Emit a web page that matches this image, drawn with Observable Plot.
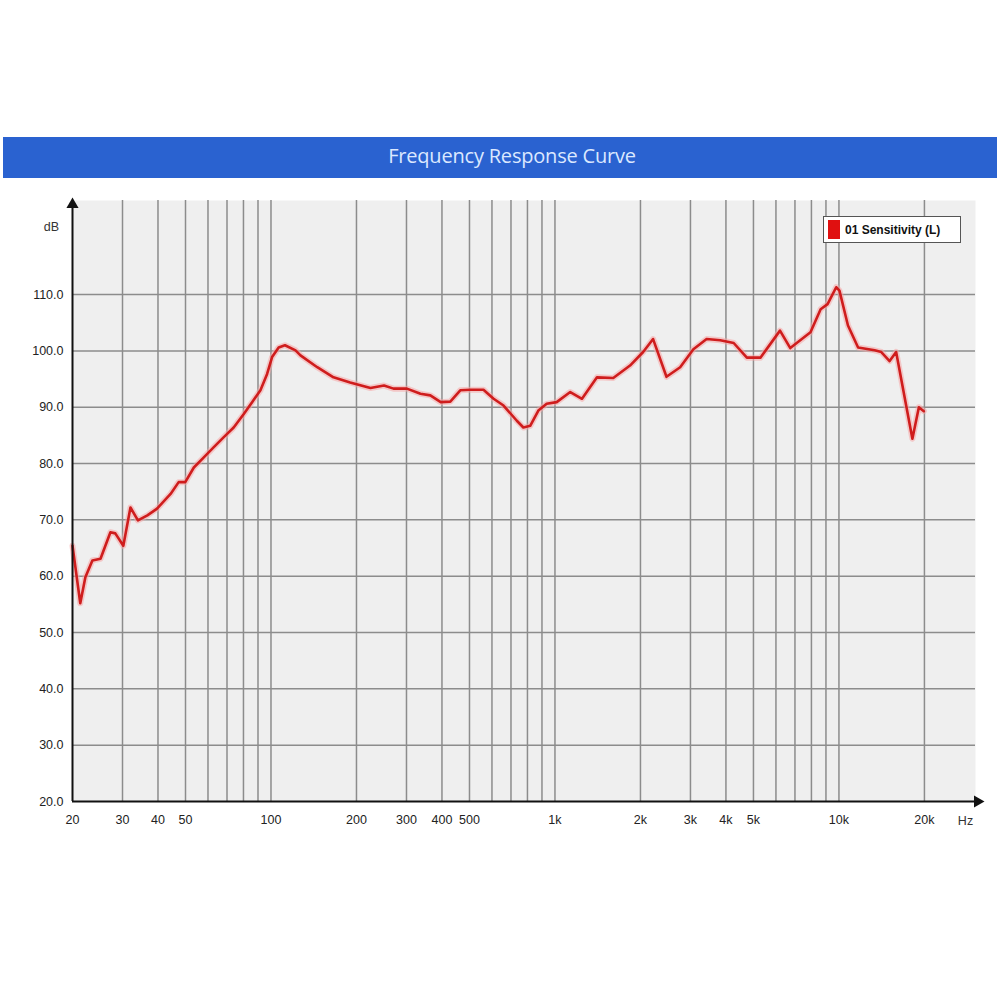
<!DOCTYPE html>
<html><head><meta charset="utf-8">
<script src="https://cdn.jsdelivr.net/npm/d3@7"></script>
<script src="https://cdn.jsdelivr.net/npm/@observablehq/plot@0.6"></script>
<style>
body{margin:0;background:#fff;width:1000px;height:1000px;position:relative;overflow:hidden;font-family:"Liberation Sans",Arial,sans-serif}
#title{position:absolute;left:3px;top:137px;width:994px;height:41px;background:#2a62d0;color:#dbe8ff;font:20px "Open Sans",sans-serif;display:flex;align-items:center;justify-content:center;letter-spacing:-0.2px;box-sizing:border-box;padding-bottom:5px;padding-left:24px}
#chart{position:absolute;left:0;top:178px}
#legend{position:absolute;left:823px;top:216px;width:136px;height:25px;border:1.5px solid #555;background:#fff;display:flex;align-items:center;font:bold 12px "Liberation Sans",Arial,sans-serif;color:#111}
#legend .sw{width:12px;height:19px;background:#e01010;margin:0 5px 0 4px}
</style>
</head><body>
<div id="title">Frequency Response Curve</div>
<div id="chart"></div>
<div id="legend"><span class="sw"></span><span id="legtext"></span></div>
<script>
const seriesName = "01 Sensitivity (L)";
const freqHz = [20, 21.3, 22.2, 23.5, 25.1, 27.2, 28.3, 30.2, 32.0, 34.0, 36.7, 39.7, 44.3, 47.3, 49.9, 53.5, 58, 62.9, 68.2, 73.9, 80.2, 85.8, 91.8, 96.9, 100.9, 106.4, 112, 122, 127, 145.5, 166, 190, 224, 250, 270, 301, 336, 364, 396, 428, 464, 504, 560, 608, 659, 734, 774, 818, 874, 935, 1014, 1132, 1245, 1406, 1604, 1838, 2044, 2216, 2470, 2760, 3072, 3420, 3820, 4260, 4740, 5290, 6200, 6740, 7940, 8620, 9120, 9780, 10040, 10760, 11680, 13360, 14100, 15080, 15900, 18140, 19120, 19900];
const levelDb = [65.4, 55.2, 59.8, 62.8, 63.1, 67.8, 67.6, 65.4, 72.2, 69.9, 70.8, 72.0, 74.6, 76.7, 76.7, 79.3, 81.1, 82.9, 84.7, 86.4, 88.8, 90.9, 93.0, 95.9, 98.9, 100.6, 101.0, 100.1, 99.2, 97.1, 95.3, 94.4, 93.4, 93.85, 93.3, 93.3, 92.4, 92.1, 90.9, 91.0, 93.0, 93.1, 93.1, 91.5, 90.3, 87.6, 86.4, 86.7, 89.4, 90.6, 90.9, 92.7, 91.5, 95.3, 95.2, 97.4, 99.8, 102.1, 95.4, 97.1, 100.3, 102.1, 101.9, 101.4, 98.8, 98.8, 103.6, 100.5, 103.3, 107.4, 108.3, 111.3, 110.7, 104.5, 100.6, 100.1, 99.8, 98.2, 99.8, 84.4, 90.0, 89.3];
const xTickValues = [20, 30, 40, 50, 100, 200, 300, 400, 500, 1000, 2000, 3000, 4000, 5000, 10000, 20000];
const xTickLabels = ["20", "30", "40", "50", "100", "200", "300", "400", "500", "1k", "2k", "3k", "4k", "5k", "10k", "20k"];
const xGridValues = [30, 40, 50, 60, 70, 80, 90, 100, 200, 300, 400, 500, 600, 700, 800, 900, 1000, 2000, 3000, 4000, 5000, 6000, 7000, 8000, 9000, 10000, 20000];
const yTickValues = [20, 30, 40, 50, 60, 70, 80, 90, 100, 110];
const xDomain = [20, 30260];
const yDomain = [20, 126.7];

document.getElementById("legtext").textContent = seriesName;
const data = freqHz.map((f, i) => ({f, db: levelDb[i]}));
const xLabels = xTickValues.map((v, i) => ({v, t: xTickLabels[i]}));

const chart = Plot.plot({
  width: 1000, height: 680,
  marginLeft: 72, marginRight: 25, marginTop: 22, marginBottom: 57,
  x: {type: "log", domain: xDomain, axis: null},
  y: {domain: yDomain, axis: null},
  style: {fontFamily: "Liberation Sans, Arial, sans-serif", fontSize: "12.5px", color: "#222", background: "transparent"},
  marks: [
    Plot.frame({fill: "#efefef", stroke: null}),
    Plot.ruleX(xGridValues, {stroke: "#8c8c8c", strokeWidth: 1.5}),
    Plot.ruleY(yTickValues.filter(d => d > 20), {stroke: "#8c8c8c", strokeWidth: 1.5}),
    Plot.line(data, {x: "f", y: "db", stroke: "#f5a5a5", strokeWidth: 6, strokeOpacity: 0.55}),
    Plot.line(data, {x: "f", y: "db", stroke: "#cf1d1d", strokeWidth: 2.6}),
    Plot.ruleX([xDomain[0]], {stroke: "#111", strokeWidth: 2, y1: yDomain[0], y2: yDomain[1]}),
    Plot.ruleY([yDomain[0]], {stroke: "#111", strokeWidth: 2, x1: xDomain[0], x2: xDomain[1]}),
    Plot.dot([[xDomain[0], yDomain[1]]], {x: d => d[0], y: d => d[1], symbol: "triangle", r: 4.5, fill: "#111", stroke: null, dy: 4}),
    Plot.dot([[xDomain[1], yDomain[0]]], {x: d => d[0], y: d => d[1], symbol: "triangle", r: 4.5, fill: "#111", stroke: null, rotate: 90, dx: 2}),
    Plot.text(yTickValues, {x: xDomain[0], y: d => d, text: d => d.toFixed(1), textAnchor: "end", dx: -9, fill: "#222"}),
    Plot.text(xLabels, {x: "v", y: yDomain[0], text: "t", textAnchor: "middle", lineAnchor: "middle", dy: 18, fill: "#222"}),
    Plot.text(["dB"], {frameAnchor: "top-left", textAnchor: "middle", lineAnchor: "middle", dx: -21, dy: 26, fill: "#333"}),
    Plot.text(["Hz"], {frameAnchor: "bottom-right", textAnchor: "middle", lineAnchor: "middle", dx: -10, dy: 19, fill: "#333"})
  ]
});
document.getElementById("chart").appendChild(chart);
</script>
</body></html>
